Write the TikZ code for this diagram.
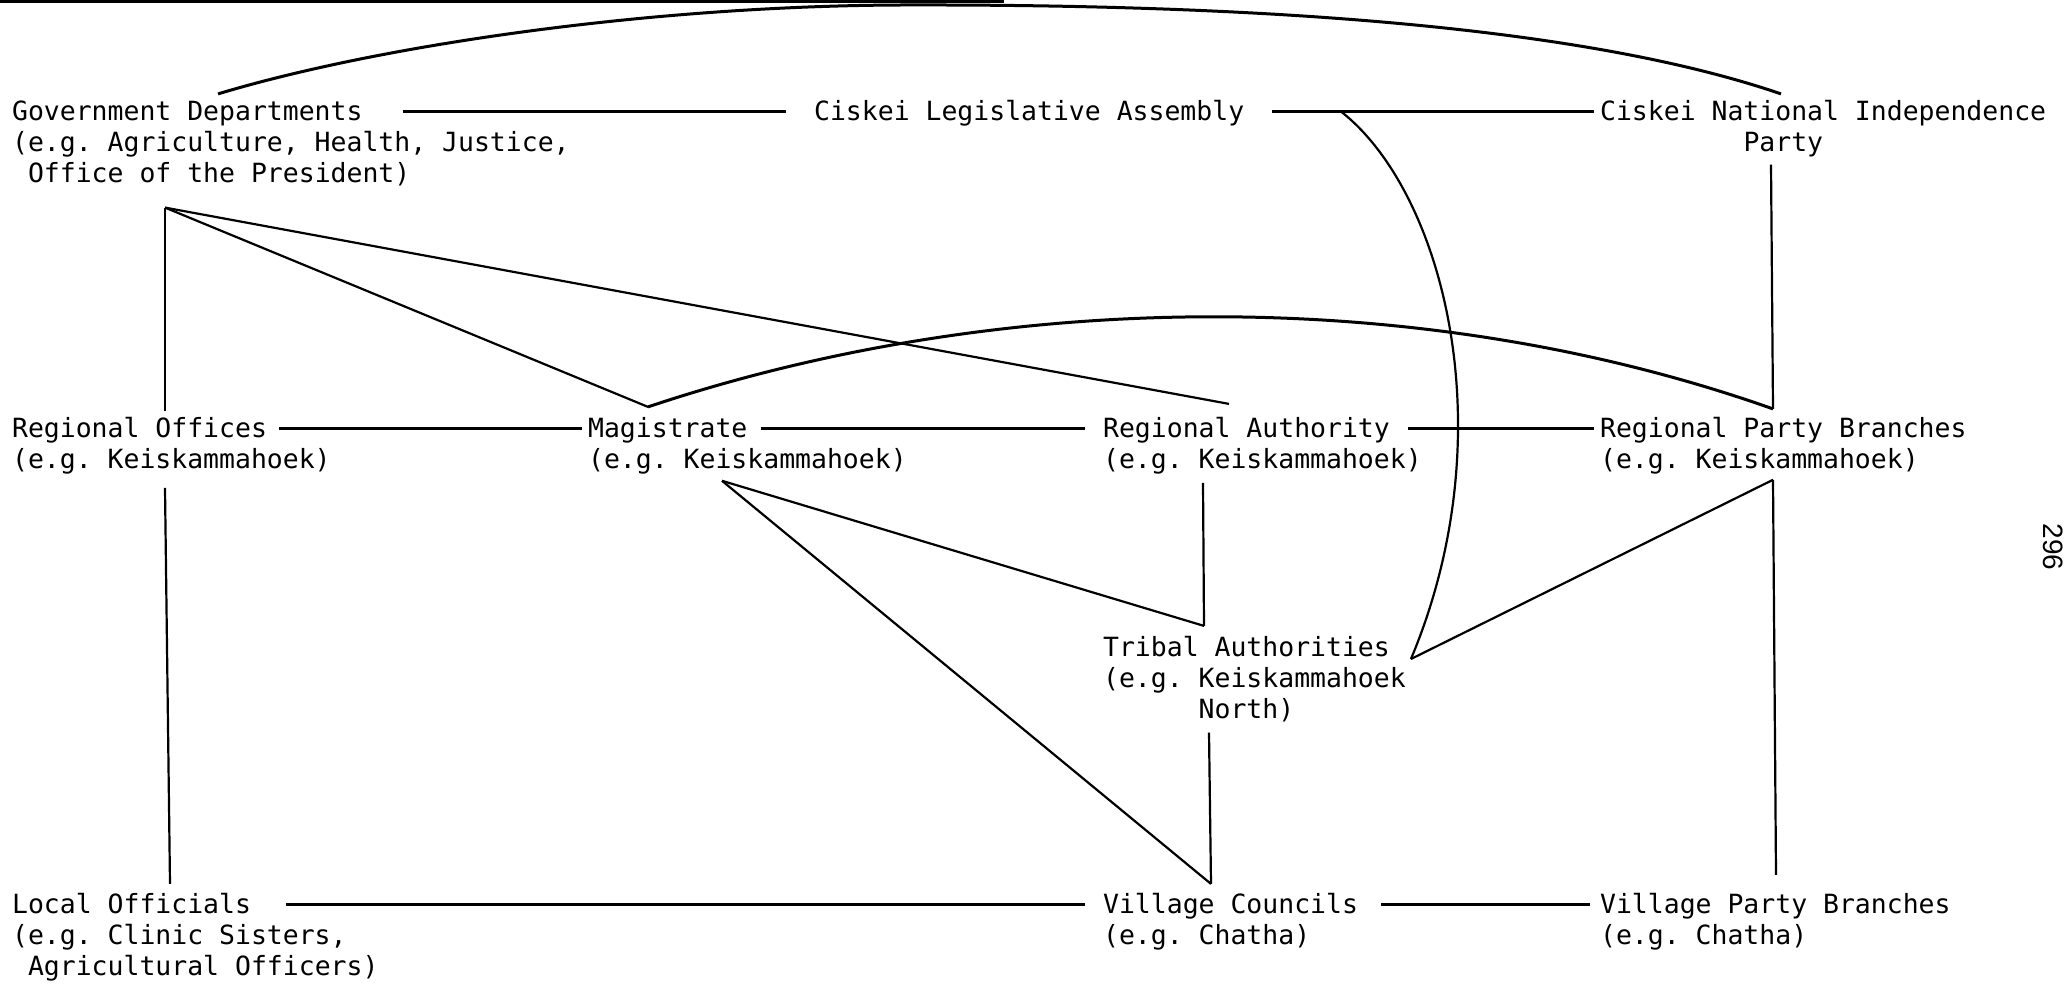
\documentclass[tikz,border=0pt]{standalone}
\usepackage{fontspec}
\setmonofont{DejaVu Sans Mono}
\newfontfamily\pagefont{Liberation Sans}
\usetikzlibrary{arrows,calc}
\newcommand{\indentby}[1]{\hspace*{#1\dimexpr 0.6021em\relax}}

\begin{document}
\begin{tikzpicture}[x=1pt,y=1pt,line width=2.2pt,
                    title/.style={anchor=base west,inner sep=0pt,text height=18pt,text depth=0pt},
                    detail/.style={anchor=base west,inner sep=0pt,align=left},
                    hline/.style={line width=3pt}]
                    \tikzstyle{every node}=[font=\ttfamily\fontsize{26.46}{31}\selectfont]
  \useasboundingbox (0,0) rectangle (2070,-988);

  % top row (detail nodes sit on their last line)
  \node (gov) [title] at (11,-120) {Government Departments};
  \node (govd) [detail] at (11,-182) {(e.g. Agriculture, Health, Justice,\\\indentby{1}Office of the President)};
  \node (cla) [title] at (813,-120) {Ciskei Legislative Assembly};
  \node (cnip) [title] at (1599,-120) {Ciskei National Independence};
  \node (cnipd) [detail] at (1599,-151) {\indentby{9}Party};

  % regional row
  \node (ro) [title] at (11,-437) {Regional Offices};
  \node (rod) [detail] at (11,-468) {(e.g. Keiskammahoek)};
  \node (mag) [title] at (587,-437) {Magistrate};
  \node (magd) [detail] at (587,-468) {(e.g. Keiskammahoek)};
  \node (ra) [title] at (1102,-437) {Regional Authority};
  \node (rad) [detail] at (1102,-468) {(e.g. Keiskammahoek)};
  \node (rpb) [title] at (1599,-437) {Regional Party Branches};
  \node (rpbd) [detail] at (1599,-468) {(e.g. Keiskammahoek)};

  \node (ta) [title] at (1102,-656) {Tribal Authorities};
  \node (tad) [detail] at (1102,-718) {(e.g. Keiskammahoek\\\indentby{6}North)};

  % village row
  \node (lo) [title] at (11,-913) {Local Officials};
  \node (lod) [detail] at (11,-975) {(e.g. Clinic Sisters,\\\indentby{1}Agricultural Officers)};
  \node (vc) [title] at (1102,-913) {Village Councils};
  \node (vcd) [detail] at (1102,-944) {(e.g. Chatha)};
  \node (vpb) [title] at (1599,-913) {Village Party Branches};
  \node (vpbd) [detail] at (1599,-944) {(e.g. Chatha)};

  \node (pagenum) [rotate=-90,inner sep=0pt,font=\pagefont\fontsize{28}{28}\selectfont] at (2053,-547) {296};

  % junctions
  \coordinate (govj) at ($(govd.south west)+(154,-21)$);
  \coordinate (rotop) at ($(ro.north west)+(154,7)$);
  \coordinate (magtop) at ($(mag.north west)+(61,11)$);
  \coordinate (ratop) at ($(ra.north west)+(127,14)$);
  \coordinate (robot) at ($(rod.south west)+(154,-13)$);
  \coordinate (lotop) at ($(lo.north west)+(159,10)$);
  \coordinate (magbot) at ($(magd.south west)+(135,-6)$);
  \coordinate (tatop) at ($(ta.north west)+(102,11)$);
  \coordinate (rabot) at ($(rad.south west)+(101,-8)$);
  \coordinate (tabot) at ($(tad.south west)+(107,-10)$);
  \coordinate (vctop) at ($(vc.north west)+(109,10)$);
  \coordinate (taright) at ($(ta.base east)+(20,-3)$);
  \coordinate (partybot) at ($(cnipd.south west)+(172,-7)$);
  \coordinate (rpbtop) at ($(rpb.north west)+(174,9)$);
  \coordinate (rpbbot) at ($(rpbd.south west)+(174,-5)$);
  \coordinate (vpbtop) at ($(vpb.north west)+(177,19)$);
  \coordinate (arctop) at (900,-5);

  % underline of the cut title
  \draw[hline] (0,-1.5) -- (1004,-1.5);

  % horizontal links
  \draw[hline] ($(gov.east)+(39,0)$) -- ($(cla.west)+(-27,0)$);
  \draw[hline] ($(cla.east)+(27,0)$) -- ($(cnip.west)+(-5,0)$);
  \draw[hline] ($(ro.east)+(11,0)$) -- ($(mag.west)+(-5,0)$);
  \draw[hline] ($(mag.east)+(12,0)$) -- ($(ra.west)+(-17,0)$);
  \draw[hline] ($(ra.east)+(17,0)$) -- ($(rpb.west)+(-5,0)$);
  \draw[hline] ($(lo.east)+(34,0)$) -- ($(vc.west)+(-17,0)$);
  \draw[hline] ($(vc.east)+(22,0)$) -- ($(vpb.west)+(-9,0)$);

  % vertical and slanted links
  \draw (govj) -- (rotop);
  \draw (govj) -- (magtop);
  \draw (govj) -- (ratop);
  \draw (robot) -- (lotop);
  \draw (magbot) -- (tatop);
  \draw (magbot) -- (vctop);
  \draw (rabot) -- (tatop);
  \draw (tabot) -- (vctop);
  \draw (partybot) -- (rpbtop);
  \draw (rpbbot) -- (vpbtop);
  \draw (rpbbot) -- (taright);

  % curved links
  \draw[hline] ($(gov.north west)+(207,7)$) .. controls (380,-45) and (650,-6) .. (arctop)
               .. controls (1250,-4) and (1580,-25) .. ($(cnip.north west)+(182,7)$);
  \draw[hline] (magtop) .. controls +(352,118) and +(-353,125) .. (rpbtop);
  \draw ($(cla.east)+(95,0)$) .. controls +(102,-79) and +(96,229) .. (taright);
\end{tikzpicture}
\end{document}
